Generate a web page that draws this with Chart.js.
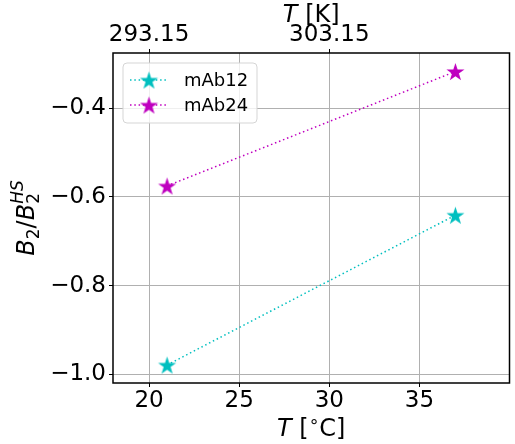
<!DOCTYPE html>
<html>
<head>
<meta charset="utf-8">
<script src="https://cdn.jsdelivr.net/npm/chart.js@4/dist/chart.umd.min.js"></script>
<style>
  body { margin: 0; background: #fff; }
  canvas { display: block; }
</style>
</head>
<body>
<canvas id="myChart" width="515" height="444"></canvas>
<script>
/* Donnees */
var tempC = [21, 37];
var mAb12 = [-0.979, -0.641];
var mAb24 = [-0.575, -0.317];
var xTicks = [20, 25, 30, 35];
var kTicks = [293.15, 303.15];
var yTicks = [-1.0, -0.8, -0.6, -0.4];

var FONT = "'DejaVu Sans', sans-serif";
var CYAN = '#00bfbf';
var MAGENTA = '#bf00bf';

/* Etoile a 5 branches pour les marqueurs */
function makeStar(color, r) {
  var size = Math.ceil(2 * r + 2);
  var c = document.createElement('canvas');
  c.width = size; c.height = size;
  var g = c.getContext('2d');
  g.beginPath();
  for (var i = 0; i < 10; i++) {
    var rr = i % 2 === 0 ? r : r * 0.382;
    var a = -Math.PI / 2 + i * Math.PI / 5;
    var px = size / 2 + rr * Math.cos(a);
    var py = size / 2 + 1 + rr * Math.sin(a);
    if (i === 0) g.moveTo(px, py); else g.lineTo(px, py);
  }
  g.closePath();
  g.fillStyle = color;
  g.fill();
  return c;
}
var starC = makeStar(CYAN, 9.5);
var starM = makeStar(MAGENTA, 9.5);

function toPoints(xs, ys) {
  return xs.map(function (x, i) { return { x: x, y: ys[i] }; });
}
function fixTicks(list) {
  return function (scale) {
    scale.ticks = list.map(function (v) { return { value: v }; });
  };
}

/* Cadre, titres d'axes et legende */
var extras = {
  id: 'extras',
  afterDatasetsDraw: function (chart) {
    var ctx = chart.ctx, a = chart.chartArea;
    ctx.save();
    ctx.strokeStyle = '#000';
    ctx.lineWidth = 1.5;
    ctx.strokeRect(a.left, a.top, a.right - a.left, a.bottom - a.top);
    ctx.restore();
  },
  afterDraw: function (chart) {
    var ctx = chart.ctx, a = chart.chartArea;
    var cx = (a.left + a.right) / 2;
    ctx.save();
    ctx.fillStyle = '#000';
    ctx.textBaseline = 'alphabetic';

    // titres haut et bas
    function drawParts(parts, x, y) {
      var w = 0;
      parts.forEach(function (p) { ctx.font = p.f; w += ctx.measureText(p.t).width; });
      var px = x - w / 2;
      parts.forEach(function (p) {
        ctx.font = p.f;
        ctx.fillText(p.t, px, y + (p.dy || 0));
        px += ctx.measureText(p.t).width;
      });
    }
    drawParts([
      { t: 'T', f: 'italic 24px ' + FONT },
      { t: ' [', f: '24px ' + FONT },
      { t: '∘', f: '17px ' + FONT, dy: -9 },
      { t: 'C]', f: '24px ' + FONT }
    ], cx, 436);
    drawParts([
      { t: 'T', f: 'italic 24px ' + FONT },
      { t: ' [K]', f: '24px ' + FONT }
    ], cx, 22);

    // titre gauche : B2/B2^HS
    ctx.translate(34, (a.top + a.bottom) / 2);
    ctx.rotate(-Math.PI / 2);
    var big = 'italic 24px ' + FONT, sub = '17px ' + FONT, sup = 'italic 17px ' + FONT;
    var parts = [
      { t: 'B', f: big, dy: 0, adv: true },
      { t: '2', f: sub, dy: 5, adv: true },
      { t: '/', f: '24px ' + FONT, dy: 0, adv: true },
      { t: 'B', f: big, dy: 0, adv: true },
      { t: '2', f: sub, dy: 5, adv: false },
      { t: 'HS', f: sup, dy: -11, adv: true }
    ];
    var w = 0;
    parts.forEach(function (p) { ctx.font = p.f; if (p.adv) w += ctx.measureText(p.t).width; });
    var px = -w / 2;
    parts.forEach(function (p) {
      ctx.font = p.f;
      ctx.fillText(p.t, px, p.dy);
      if (p.adv) px += ctx.measureText(p.t).width;
    });
    ctx.restore();

    // legende
    ctx.save();
    var lx = 123, ly = 63, lw = 134, lh = 60, r = 4;
    ctx.beginPath();
    ctx.roundRect(lx, ly, lw, lh, r);
    ctx.fillStyle = 'rgba(255,255,255,0.8)';
    ctx.fill();
    ctx.strokeStyle = '#d5d5d5';
    ctx.lineWidth = 1;
    ctx.stroke();
    chart.data.datasets.forEach(function (ds, i) {
      var y = 80 + i * 25;
      ctx.beginPath();
      ctx.setLineDash([1.5, 2.8]);
      ctx.strokeStyle = ds.borderColor;
      ctx.lineWidth = 1.5;
      ctx.moveTo(130, y);
      ctx.lineTo(168, y);
      ctx.stroke();
      ctx.setLineDash([]);
      var img = ds.pointStyle;
      ctx.drawImage(img, 149 - img.width / 2, y - img.height / 2);
      ctx.fillStyle = '#000';
      ctx.font = '18px ' + FONT;
      ctx.textBaseline = 'middle';
      ctx.fillText(ds.label, 184, y + 1);
    });
    ctx.restore();
  }
};

var ctx_1 = document.getElementById('myChart').getContext('2d');
var chart = new Chart(ctx_1, {
  type: 'scatter',
  data: {
    datasets: [{
      label: 'mAb12',
      data: toPoints(tempC, mAb12),
      showLine: true,
      borderColor: CYAN,
      backgroundColor: CYAN,
      borderWidth: 1.5,
      borderDash: [1.5, 2.8],
      pointStyle: starC,
      xAxisID: 'x',
      yAxisID: 'y'
    }, {
      label: 'mAb24',
      data: toPoints(tempC, mAb24),
      showLine: true,
      borderColor: MAGENTA,
      backgroundColor: MAGENTA,
      borderWidth: 1.5,
      borderDash: [1.5, 2.8],
      pointStyle: starM,
      xAxisID: 'x',
      yAxisID: 'y'
    }]
  },
  options: {
    responsive: false,
    animation: false,
    layout: { padding: { left: 0, right: 2, top: 0, bottom: 0 } },
    plugins: { legend: { display: false }, tooltip: { enabled: false } },
    scales: {
      x: {
        type: 'linear', position: 'bottom', min: 18, max: 40,
        afterBuildTicks: fixTicks(xTicks),
        afterFit: function (s) { s.height = 61; },
        border: { display: false },
        grid: { color: '#b0b0b0', lineWidth: 1, tickColor: '#000', tickLength: 4 },
        ticks: { color: '#000', font: { family: FONT, size: 23 }, padding: 0, maxRotation: 0 }
      },
      x2: {
        type: 'linear', position: 'top', min: 291.15, max: 313.15,
        afterBuildTicks: fixTicks(kTicks),
        afterFit: function (s) { s.height = 53; },
        border: { display: false },
        grid: { drawOnChartArea: false, tickColor: '#000', tickLength: 4 },
        ticks: {
          color: '#000', font: { family: FONT, size: 23 }, padding: 0, maxRotation: 0,
          callback: function (v) { return v.toFixed(2); }
        }
      },
      y: {
        type: 'linear', min: -1.0196, max: -0.2753,
        afterBuildTicks: fixTicks(yTicks),
        afterFit: function (s) { s.width = 113; },
        border: { display: false },
        grid: { color: '#b0b0b0', lineWidth: 1, tickColor: '#000', tickLength: 4 },
        ticks: {
          color: '#000', font: { family: FONT, size: 23 }, padding: 3,
          callback: function (v) { return v.toFixed(1).replace('-', '\u2212'); }
        }
      }
    }
  },
  plugins: [extras]
});
</script>
</body>
</html>
